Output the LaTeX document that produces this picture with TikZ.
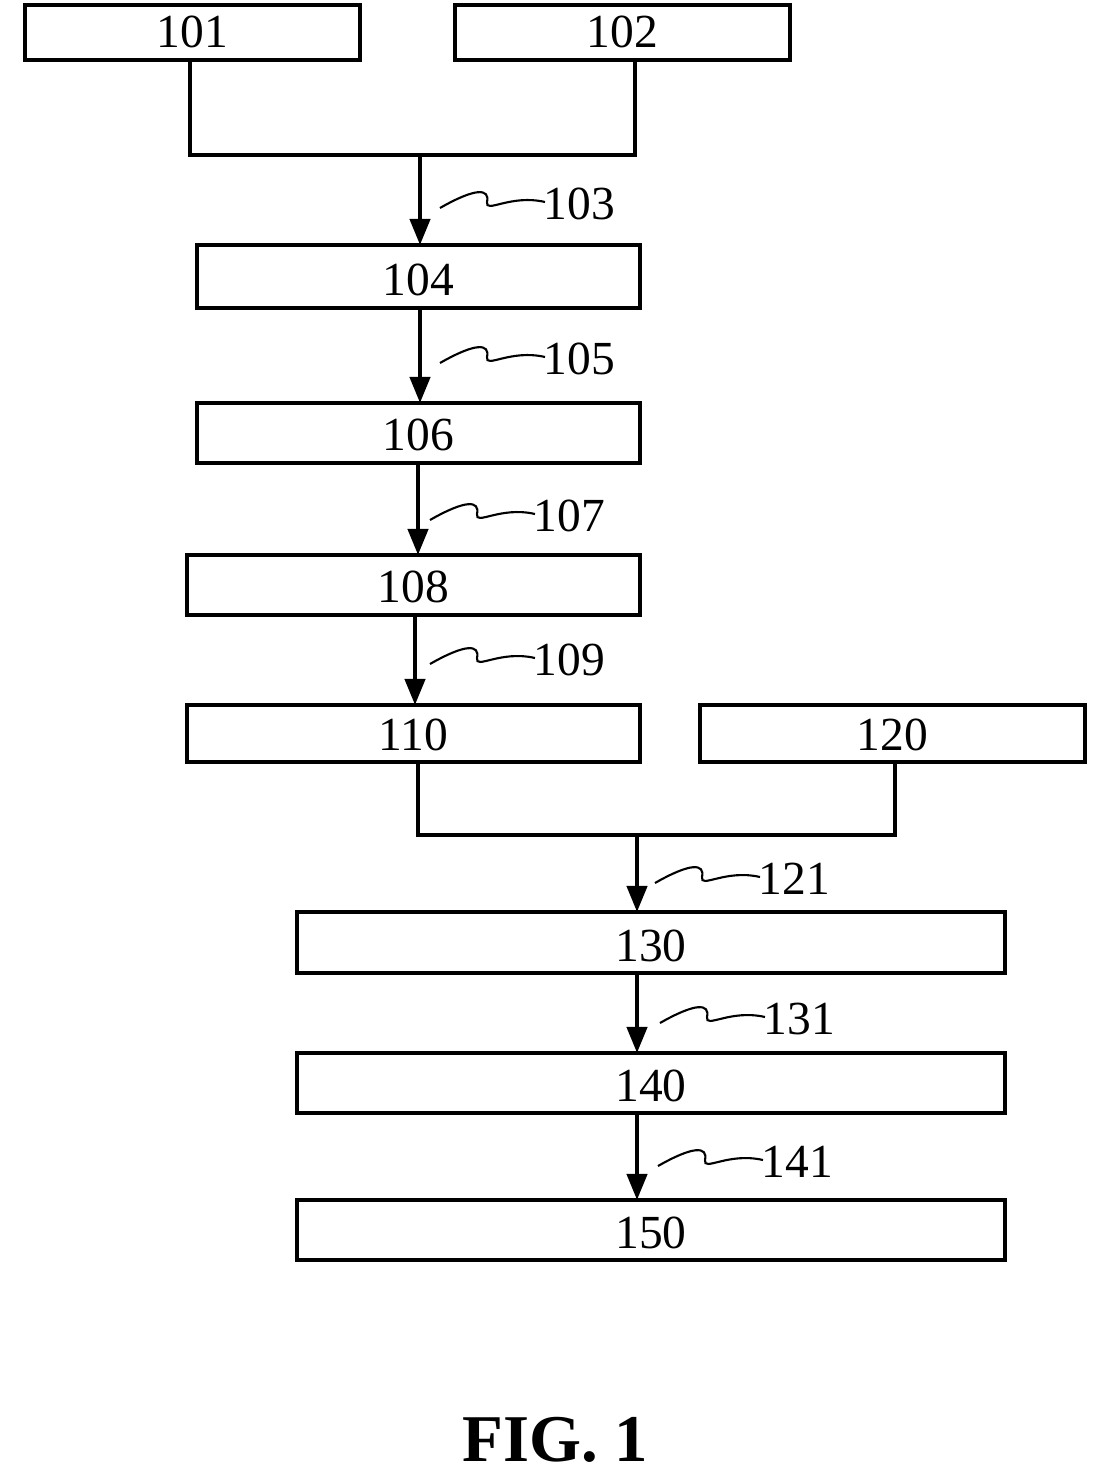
\documentclass[tikz,border=0pt]{standalone}
\usepackage{fontspec}
\setmainfont{Liberation Serif}
\usetikzlibrary{arrows.meta}
\begin{document}
\begin{tikzpicture}[x=0.01cm,y=-0.01cm,
  box/.style={draw,line width=0.9pt,rectangle,inner sep=0pt},
  num/.style={font=\fontsize{13.5}{15}\selectfont,anchor=base,inner sep=0pt},
  ln/.style={line width=0.9pt},
  arr/.style={line width=1.2pt,-{Triangle[length=0.26cm,width=0.2cm]}},
  sq/.style={line width=0.6pt}]
\useasboundingbox (0,0) rectangle (1110,1480);
\newcommand{\bx}[5]{%
  \node[box,minimum width={(#3-#1)*0.01cm},minimum height={(#4-#2)*0.01cm}] (#5) at ({(#1+#3)/2},{(#2+#4)/2}) {};
  \node[num] (t#5) at ({(#1+#3)/2},{#4-12}) {#5};}
\bx{25}{5}{360}{60}{101}
\bx{455}{5}{790}{60}{102}
\bx{197}{245}{640}{308}{104}
\bx{197}{403}{640}{463}{106}
\bx{187}{555}{640}{615}{108}
\bx{187}{705}{640}{762}{110}
\bx{700}{705}{1085}{762}{120}
\bx{297}{912}{1005}{973}{130}
\bx{297}{1053}{1005}{1113}{140}
\bx{297}{1200}{1005}{1260}{150}
\coordinate (j1) at (420,155);
\coordinate (j2) at (637,835);
\draw[ln] (190,60) |- (j1) -| (635,60);
\draw[ln] (418,762) |- (j2) -| (895,762);
\draw[arr] (j1) -- (420,245);
\draw[arr] (420,308) -- (420,403);
\draw[arr] (418,463) -- (418,555);
\draw[arr] (415,615) -- (415,705);
\draw[arr] (j2) -- (637,912);
\draw[arr] (637,973) -- (637,1053);
\draw[arr] (637,1113) -- (637,1200);
\newcommand{\sqg}[3]{%
  \draw[sq] (#1,#2+8) .. controls (#1+35,#2-12) and (#1+50,#2-12) .. (#1+47,#2+2)
     .. controls (#1+45,#2+14) and (#1+70,#2-6) .. (#1+105,#2+2);
  \node[num,anchor=west] (l#3) at (#1+103,#2+4) {#3};}
\sqg{440}{200}{103}
\sqg{440}{355}{105}
\sqg{430}{512}{107}
\sqg{430}{656}{109}
\sqg{655}{875}{121}
\sqg{660}{1015}{131}
\sqg{658}{1158}{141}
\node[font=\bfseries\fontsize{19}{22}\selectfont] (fig) at (555,1440) {FIG. 1};
\end{tikzpicture}
\end{document}
